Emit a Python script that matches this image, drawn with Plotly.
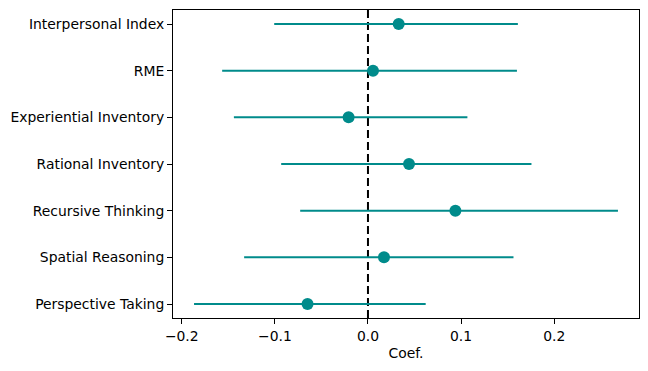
import plotly.graph_objects as go

categories = ["Perspective Taking", "Spatial Reasoning", "Recursive Thinking",
              "Rational Inventory", "Experiential Inventory", "RME", "Interpersonal Index"]
coef = [-0.0649, 0.0172, 0.0939, 0.0441, -0.0208, 0.0054, 0.0330]
ci_low = [-0.1868, -0.1330, -0.0728, -0.0932, -0.1440, -0.1566, -0.1007]
ci_high = [0.0620, 0.1563, 0.2685, 0.1756, 0.1068, 0.1600, 0.1610]
x_ticks = [-0.2, -0.1, 0.0, 0.1, 0.2]
x_ticklabels = ["\u22120.2", "\u22120.1", "0.0", "0.1", "0.2"]

ypos = list(range(len(categories)))
err_plus = [h - c for h, c in zip(ci_high, coef)]
err_minus = [c - l for c, l in zip(coef, ci_low)]

color = "#008B8B"
font = dict(family="DejaVu Sans", size=13.9, color="black")

fig = go.Figure()
fig.add_trace(go.Scatter(
    x=coef, y=ypos, mode="markers",
    marker=dict(color=color, size=12),
    error_x=dict(type="data", array=err_plus, arrayminus=err_minus,
                 color=color, thickness=2, width=0),
    showlegend=False,
))
fig.add_shape(type="line", x0=0, x1=0, xref="x", y0=0, y1=1, yref="paper",
              layer="below",
              line=dict(color="black", width=2, dash="8px,4px"))

fig.update_layout(
    width=648, height=371,
    margin=dict(l=173, r=9, t=10, b=53),
    paper_bgcolor="white", plot_bgcolor="white",
    font=font,
    xaxis=dict(range=[-0.2094, 0.2911], tickvals=x_ticks, ticktext=x_ticklabels,
               ticks="outside", ticklen=5, tickcolor="black", tickwidth=1,
               showline=True, linecolor="black", linewidth=1, mirror=True,
               showgrid=False, zeroline=False,
               title=dict(text="Coef.", font=font, standoff=5)),
    yaxis=dict(range=[-0.3, 6.3], tickvals=ypos, ticktext=categories,
               ticks="outside", ticklen=5, tickcolor="black", tickwidth=1,
               showline=True, linecolor="black", linewidth=1, mirror=True,
               showgrid=False, zeroline=False),
)

fig.write_html("out.html", config={"displayModeBar": False},
               post_script="document.body.style.margin='0';")
